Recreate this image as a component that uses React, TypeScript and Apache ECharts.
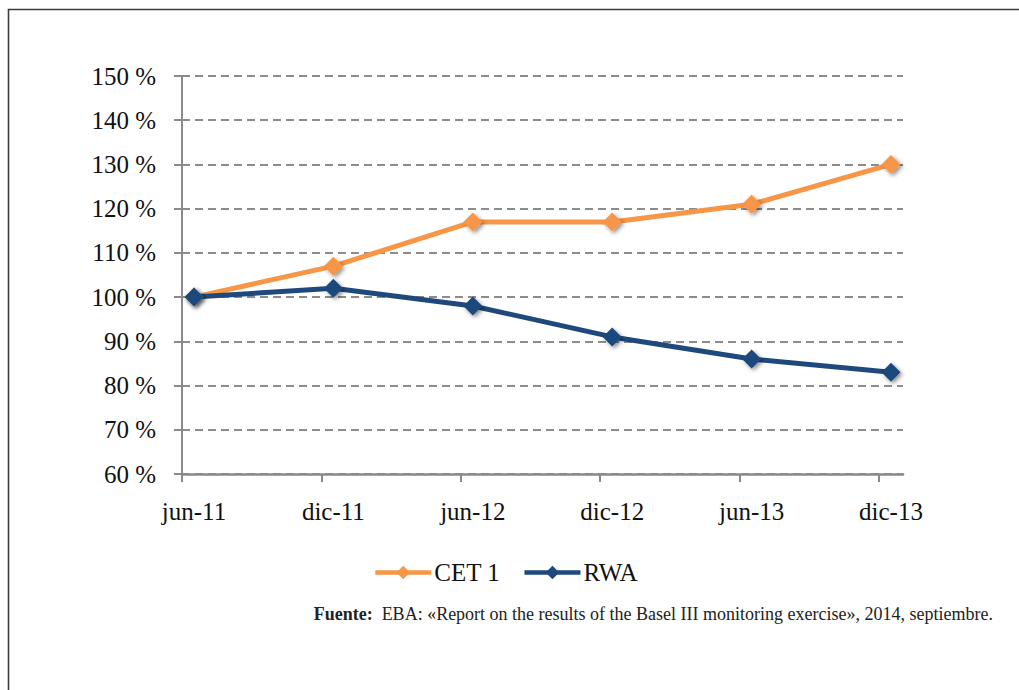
import React, { useEffect, useRef } from "react";
import * as echarts from "echarts";

const categories = ["jun-11", "dic-11", "jun-12", "dic-12", "jun-13", "dic-13"];
const cet1 = [100, 107, 117, 117, 121, 130];
const rwa = [100, 102, 98, 91, 86, 83];
const yTicks = [60, 70, 80, 90, 100, 110, 120, 130, 140, 150];
const seriesNames = ["CET 1", "RWA"];
const sourceLabel = "Fuente:";
const sourceText = "  EBA: «Report on the results of the Basel III monitoring exercise», 2014, septiembre.";

const PAD = 0.086;
const FONT = "'Liberation Serif', 'DejaVu Serif', serif";

export default function App() {
  const ref = useRef<HTMLDivElement>(null);
  useEffect(() => {
    if (!ref.current) return;
    const chart = echarts.init(ref.current, null, { renderer: "svg" });
    const idx = categories.map((_, i) => i);
    const shadow = {
      shadowBlur: 4,
      shadowOffsetX: 2,
      shadowOffsetY: 2,
      shadowColor: "rgba(0,0,0,0.45)",
    };
    chart.setOption({
      animation: false,
      backgroundColor: "#ffffff",
      textStyle: { fontFamily: FONT },
      grid: { left: 182, right: 116, top: 76, bottom: 216 },
      xAxis: {
        type: "value",
        min: -PAD,
        max: categories.length - 1 + PAD,
        axisLine: { show: true, onZero: false, lineStyle: { color: "#8a8a8a", width: 2.5 } },
        axisTick: {
          show: true,
          length: 8,
          customValues: idx.map((i) => i - PAD),
          lineStyle: { color: "#8a8a8a", width: 2 },
        },
        axisLabel: {
          customValues: idx,
          formatter: (v: number) => categories[Math.round(v)] ?? "",
          color: "#111",
          fontFamily: FONT,
          fontSize: 25,
          margin: 25,
        },
        splitLine: { show: false },
      },
      yAxis: {
        type: "value",
        min: yTicks[0],
        max: yTicks[yTicks.length - 1],
        interval: 10,
        axisLine: { show: true, onZero: false, lineStyle: { color: "#8a8a8a", width: 2 } },
        axisTick: { show: true, length: 8, lineStyle: { color: "#8a8a8a", width: 2 } },
        axisLabel: {
          formatter: (v: number) => v + " %",
          color: "#111",
          fontFamily: FONT,
          fontSize: 25,
          margin: 26,
        },
        splitLine: {
          show: true,
          lineStyle: { color: "#8c8c8c", width: 2, type: [8, 5] },
        },
      },
      legend: {
        data: seriesNames,
        left: 368,
        top: 555,
        itemWidth: 56,
        itemHeight: 17,
        itemGap: 22,
        lineStyle: { width: 4.5 },
        textStyle: { fontFamily: FONT, fontSize: 25, color: "#111", padding: [0, 0, 0, -2] },
      },
      series: [
        {
          name: seriesNames[0],
          type: "line",
          data: cet1.map((v, i) => [i, v]),
          symbol: "diamond",
          symbolSize: 19,
          lineStyle: { color: "#F79646", width: 5 },
          itemStyle: { color: "#F79646", ...shadow },
        },
        {
          name: seriesNames[1],
          type: "line",
          data: rwa.map((v, i) => [i, v]),
          symbol: "diamond",
          symbolSize: 19,
          lineStyle: { color: "#1F497D", width: 5 },
          itemStyle: { color: "#1F497D", ...shadow },
        },
      ],
      graphic: [
        {
          type: "rect",
          shape: { x: 8.5, y: 9.5, width: 1200, height: 900 },
          style: { fill: "none", stroke: "#3c3c3c", lineWidth: 1.6 },
          silent: true,
        },
        {
          type: "text",
          right: 26,
          top: 605,
          style: {
            rich: {
              b: { fontFamily: FONT, fontSize: 18, fontWeight: "bold", fill: "#222" },
              n: { fontFamily: FONT, fontSize: 18, fill: "#222" },
            },
            text: "{b|" + sourceLabel + "}{n|" + sourceText + "}",
          },
        },
      ],
    });
    return () => chart.dispose();
  }, []);
  return (
    <div
      ref={ref}
      style={{ position: "absolute", left: 0, top: 0, width: 1019, height: 690 }}
    />
  );
}
